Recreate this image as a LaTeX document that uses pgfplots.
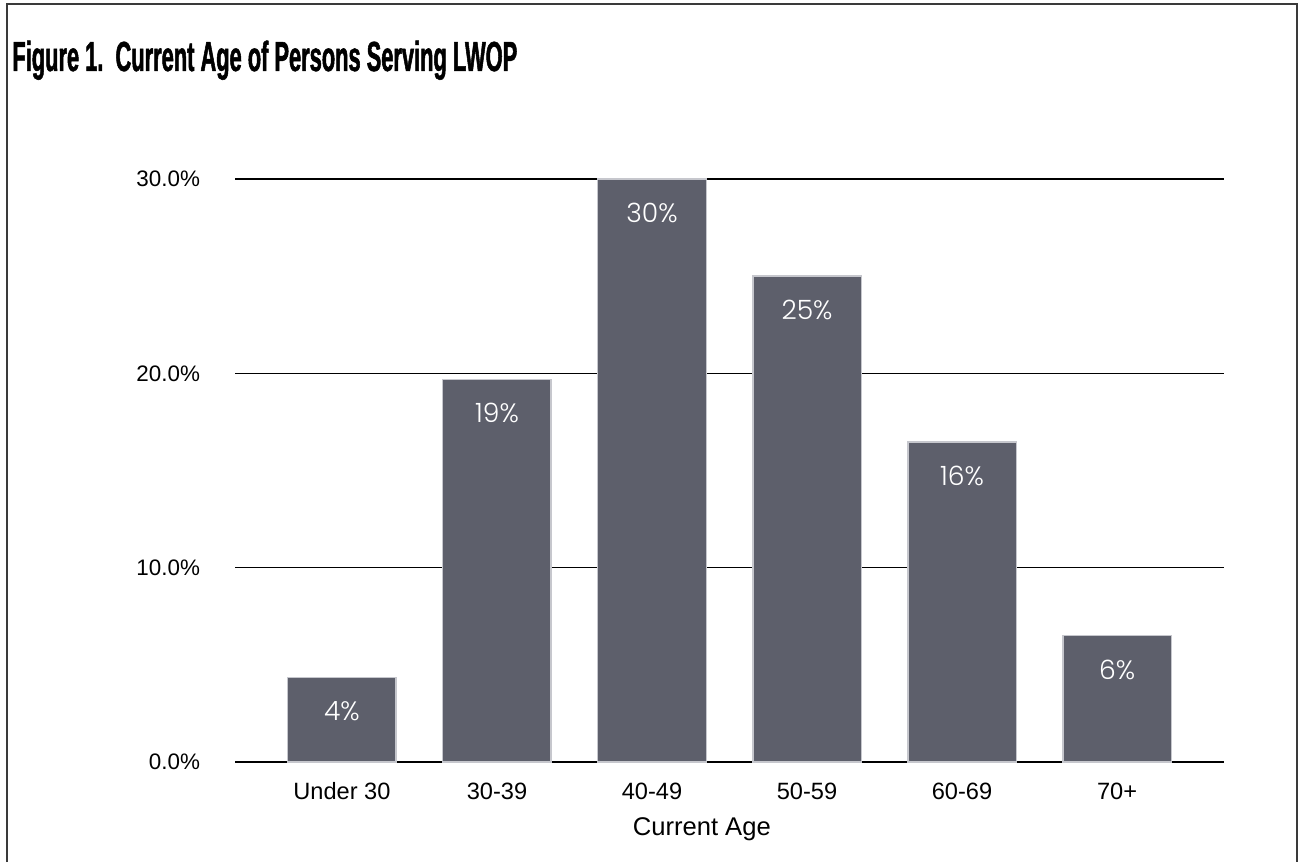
\documentclass[border=0pt]{standalone}
\usepackage{pgfplots}
\pgfplotsset{compat=1.18}
\usepackage{fontspec}
\setmainfont{Liberation Sans}
\newfontfamily\titlefont{Liberation Sans}[FakeStretch=0.52, FakeBold=1.2]
\newfontfamily\barfont{Poppins}[UprightFont=* Light]

\definecolor{barfill}{HTML}{5D5F6B}
\definecolor{baredge}{HTML}{C6C7CD}
\definecolor{framegray}{HTML}{3A3A3A}

\pgfplotstableread{
x  share
0  4.35
1  19.69
2  30.00
3  25.02
4  16.47
5  6.51
}\agedata

\begin{document}
\begin{tikzpicture}
  % page area and frame
  \useasboundingbox (0,0) rectangle (649.5pt,431pt);
  \draw[framegray, line width=1pt] (3.5pt,0) -- (3.5pt,429pt) -- (648.5pt,429pt) -- (648.5pt,0);
  \node[anchor=base west, inner sep=0pt] at (6pt,395.5pt)
    {\titlefont\bfseries\fontsize{21}{23}\selectfont Figure 1.\ \ Current Age of Persons Serving LWOP};

  \begin{axis}[
    at={(117.5pt,50pt)}, anchor=south west,
    scale only axis, width=494.5pt, height=291.5pt,
    xmin=-0.69, xmax=5.69, ymin=0, ymax=30,
    axis line style={draw=none},
    major tick length=0pt,
    xtick={0,...,5},
    xticklabels={Under 30,30-39,40-49,50-59,60-69,70+},
    ytick={0,10,20,30},
    yticklabels={0.0\%,10.0\%,20.0\%,30.0\%},
    ymajorgrids,
    grid style={black, line width=0.75pt},
    xticklabel style={font=\fontsize{11.8}{13}\selectfont, text height=8.6pt,
                      text depth=2pt, yshift=-6.5pt},
    yticklabel style={font=\fontsize{11.2}{13}\selectfont, xshift=-14pt},
    xlabel={Current Age},
    xlabel style={at={(axis description cs:0.472,0)}, anchor=north, yshift=-24.5pt,
                  font=\fontsize{12.8}{14}\selectfont},
    clip=false,
  ]
    % bar labels show the whole-percent part of each share
    \addplot[ybar, bar width=0.70, fill=barfill, draw=baredge, line width=0.75pt,
      nodes near coords={\pgfmathfloattoint{\pgfplotspointmeta}\pgfmathresult\%},
      every node near coord/.append style={anchor=center, yshift=-17pt,
        text=white, font=\barfont\fontsize{13.3}{15}\selectfont}]
      table[x=x, y=share] {\agedata};
  \end{axis}
\end{tikzpicture}
\end{document}
